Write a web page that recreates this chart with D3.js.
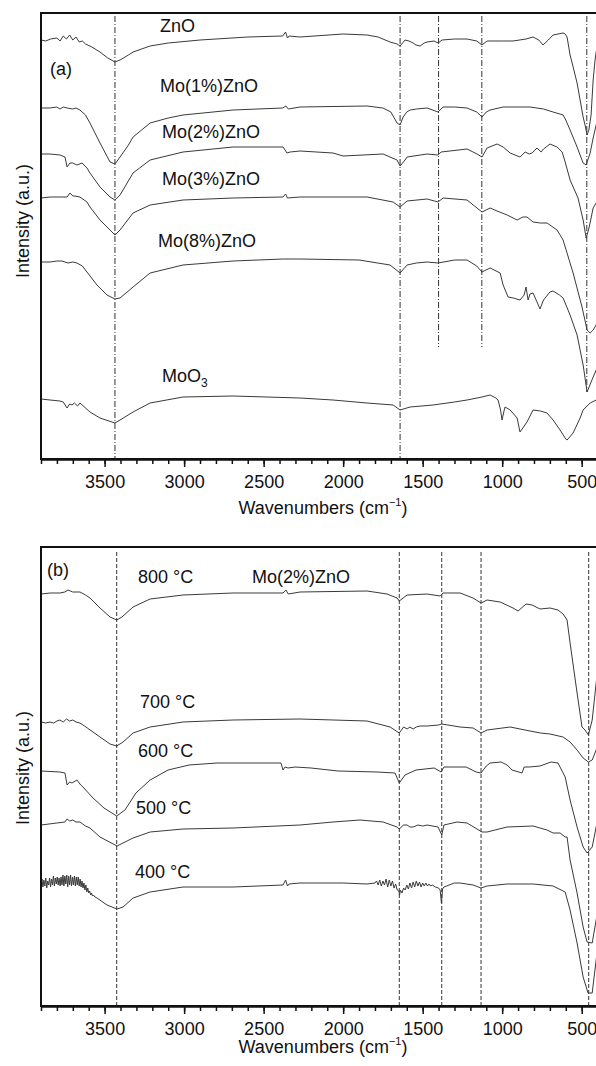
<!DOCTYPE html>
<html><head><meta charset="utf-8">
<script src="https://cdn.jsdelivr.net/npm/d3@7"></script>
<style>body{margin:0;background:#fff}svg{display:block}text{font-family:"Liberation Sans",Arial,sans-serif;fill:#111}</style>
</head><body><svg id="c" width="596" height="1066"></svg>
<script>
// ---------- DATA (wavenumber cm-1, intensity a.u.) ----------
const xDomain = [3900, 400];
const majorTicks = [3500, 3000, 2500, 2000, 1500, 1000, 500];
const xTitle = "Wavenumbers (cm";
const yTitle = "Intensity (a.u.)";

// panel (a)
const aNames = ["ZnO", "Mo(1%)ZnO", "Mo(2%)ZnO", "Mo(3%)ZnO", "Mo(8%)ZnO", "MoO3"];
const aZnO = [[3900,419],[3870,418],[3840,420],[3800,421],[3780,418],[3760,423],[3740,420],[3720,424],[3700,419],[3680,422],[3660,417],[3640,418],[3620,415],[3580,412],[3529,407],[3480,401],[3435,397],[3403,399],[3350,404],[3321,407],[3214,413],[3100,416],[2900,419],[2600,422],[2380,423],[2362,427],[2350,421],[2340,423],[2271,422],[2000,425],[1850,424],[1780,422],[1705,417],[1661,415],[1642,413],[1611,419],[1586,418],[1560,416],[1542,414],[1516,413],[1490,416],[1472,417],[1428,418],[1403,416],[1378,419],[1300,420],[1221,420],[1160,418],[1127,414],[1095,418],[1000,418],[932,418],[850,420],[806,422],[770,419],[743,414],[710,419],[680,424],[617,426],[604,425],[592,422],[573,404],[560,396],[529,376],[510,359],[491,342],[479,334],[466,324],[455,329],[441,344],[428,379],[416,399],[409,407],[400,414]];
const aMo1 = [[3900,351],[3843,351],[3800,352],[3781,350],[3760,352],[3736,351],[3700,350],[3680,351],[3655,349],[3620,344],[3592,336],[3529,316],[3466,297],[3435,295],[3403,302],[3350,314],[3321,322],[3214,336],[3100,341],[3007,344],[2692,349],[2380,351],[2360,353],[2345,350],[2271,352],[1850,353],[1750,351],[1700,347],[1661,336],[1642,334],[1623,342],[1600,347],[1579,349],[1540,350],[1472,351],[1403,347],[1372,352],[1300,352],[1221,351],[1160,347],[1127,342],[1100,347],[1076,349],[994,352],[825,352],[740,350],[680,347],[617,344],[600,339],[573,329],[529,312],[491,296],[472,294],[447,306],[428,321],[409,334],[400,341]];
const aMo2 = [[3900,305],[3843,305],[3781,304],[3749,302],[3736,292],[3718,296],[3700,296],[3674,294],[3642,296],[3611,291],[3592,286],[3529,272],[3466,262],[3435,259],[3403,264],[3321,286],[3214,299],[3007,307],[2692,312],[2378,312],[2353,306],[2334,307],[2271,308],[2064,306],[2001,303],[1749,305],[1661,299],[1642,293],[1611,299],[1598,302],[1472,305],[1403,304],[1384,307],[1221,310],[1158,305],[1127,302],[1095,311],[1032,315],[994,312],[950,306],[888,302],[856,307],[830,305],[812,306],[781,311],[755,307],[740,310],[699,315],[655,312],[623,307],[604,297],[573,279],[523,261],[491,239],[472,221],[454,231],[441,241],[428,251],[409,256],[400,259]];
const aMo3 = [[3900,261],[3843,262],[3781,262],[3736,262],[3718,266],[3700,263],[3686,263],[3655,262],[3611,257],[3592,252],[3529,239],[3466,229],[3435,224],[3403,229],[3321,246],[3214,254],[3007,259],[2692,261],[2378,262],[2362,265],[2350,261],[2271,262],[1850,262],[1686,257],[1642,252],[1598,258],[1472,260],[1403,257],[1372,261],[1221,259],[1127,247],[1076,251],[1032,248],[969,244],[906,239],[870,242],[844,242],[806,237],[760,236],[718,236],[655,229],[617,219],[554,186],[498,152],[466,129],[447,126],[428,129],[409,134],[400,139]];
const aMo8 = [[3900,197],[3843,197],[3800,198],[3768,198],[3730,196],[3700,197],[3674,196],[3640,193],[3611,187],[3548,174],[3485,164],[3435,160],[3403,161],[3321,172],[3214,186],[3007,194],[2692,198],[2378,200],[2271,200],[1900,199],[1705,194],[1642,186],[1598,194],[1540,196],[1472,197],[1403,196],[1300,199],[1221,199],[1160,193],[1127,187],[1076,191],[1013,186],[994,174],[963,162],[930,161],[888,159],[862,164],[850,172],[837,159],[825,165],[806,166],[781,157],[762,150],[740,159],[700,167],[680,168],[640,164],[617,161],[573,144],[529,124],[491,94],[466,67],[441,77],[409,89],[400,92]];
const aMoO3 = [[3900,60],[3843,59],[3781,58],[3760,57],[3736,51],[3720,55],[3705,54],[3690,56],[3670,53],[3655,56],[3592,47],[3529,41],[3435,36],[3403,39],[3321,47],[3214,56],[3007,62],[2692,63],[2271,61],[2064,59],[1850,56],[1686,54],[1642,49],[1579,52],[1435,54],[1300,57],[1221,59],[1127,62],[1076,64],[1040,61],[1026,59],[1010,49],[1001,39],[990,47],[982,52],[950,49],[906,41],[888,27],[870,31],[844,37],[806,49],[760,48],[718,46],[680,39],[636,29],[600,20],[592,19],[554,26],[510,41],[491,49],[447,56],[409,59],[400,60]];
const aPeaks = [3435, 1642, 1400, 1128, 468];
const aPeakEnds = [0, 0, 112, 112, 67];

// panel (b) Mo(2%)ZnO at calcination temperatures
const bNames = ["800 °C", "700 °C", "600 °C", "500 °C", "400 °C"];
const b800 = [[3900,412],[3843,413],[3781,413],[3750,414],[3730,416],[3700,414],[3655,414],[3620,411],[3592,408],[3529,398],[3466,389],[3424,386],[3391,389],[3321,399],[3214,407],[3007,411],[2692,413],[2378,413],[2360,416],[2345,412],[2271,414],[1850,415],[1724,412],[1661,408],[1647,405],[1598,411],[1472,412],[1390,410],[1372,413],[1265,413],[1183,408],[1133,403],[1095,406],[1013,404],[932,398],[900,395],[850,402],[812,401],[762,397],[699,398],[649,396],[617,392],[592,386],[573,363],[529,313],[498,279],[479,276],[458,271],[434,286],[409,323],[400,336]];
const b700 = [[3900,284],[3870,283],[3843,284],[3820,283],[3800,285],[3781,286],[3760,284],[3740,287],[3720,285],[3700,286],[3680,284],[3655,283],[3617,279],[3529,269],[3466,262],[3424,260],[3384,264],[3321,273],[3214,279],[3007,284],[2692,286],[2271,287],[1850,285],[1705,279],[1647,273],[1620,279],[1598,277],[1580,279],[1560,277],[1540,279],[1516,280],[1472,280],[1400,281],[1380,282],[1265,279],[1183,278],[1133,273],[1095,276],[950,279],[825,275],[760,273],[699,272],[617,269],[573,264],[529,256],[491,248],[458,244],[434,246],[409,256],[400,261]];
const b600 = [[3900,235],[3781,234],[3749,233],[3736,221],[3720,224],[3705,223],[3674,226],[3650,221],[3636,219],[3573,208],[3504,198],[3424,190],[3372,196],[3303,213],[3214,226],[3101,236],[2969,241],[2793,243],[2391,243],[2378,236],[2365,239],[2347,238],[2303,239],[2202,238],[2032,235],[1787,234],[1674,233],[1647,223],[1611,231],[1542,236],[1428,238],[1384,234],[1366,239],[1227,239],[1164,234],[1133,233],[1100,240],[1076,243],[1007,244],[969,241],[938,236],[875,233],[862,239],[831,239],[762,240],[693,244],[649,243],[604,229],[573,206],[529,179],[491,159],[466,153],[434,159],[409,179],[400,186]];
const b500 = [[3900,181],[3800,183],[3750,184],[3736,187],[3720,185],[3700,186],[3680,184],[3655,184],[3620,180],[3592,178],[3529,169],[3422,160],[3321,168],[3214,174],[3007,177],[2692,178],[2271,181],[2064,184],[1894,186],[1749,184],[1661,179],[1647,177],[1620,181],[1598,181],[1580,179],[1560,179],[1530,181],[1500,180],[1472,181],[1403,179],[1380,171],[1366,181],[1284,184],[1221,183],[1127,174],[1095,174],[969,179],[806,180],[718,176],[680,173],[636,173],[604,169],[592,169],[573,146],[529,113],[491,79],[466,64],[434,63],[409,86],[400,96]];
const b400 = [[3900,123],[3894,127],[3888,119],[3882,126],[3876,120],[3870,128],[3864,118],[3858,125],[3852,121],[3846,128],[3840,119],[3834,127],[3828,121],[3822,130],[3816,120],[3810,128],[3804,122],[3798,129],[3792,121],[3786,128],[3780,120],[3774,129],[3768,121],[3762,131],[3756,120],[3750,130],[3744,122],[3738,131],[3732,119],[3726,130],[3720,121],[3714,131],[3708,120],[3702,129],[3696,121],[3690,130],[3684,120],[3678,129],[3672,121],[3666,129],[3660,120],[3654,127],[3648,119],[3642,125],[3636,118],[3630,123],[3624,116],[3618,121],[3612,114],[3606,118],[3600,113],[3594,115],[3588,111],[3582,113],[3576,110],[3570,111],[3560,109],[3548,108],[3485,101],[3422,97],[3384,99],[3321,108],[3214,114],[3007,119],[2692,119],[2378,121],[2362,126],[2350,120],[2340,122],[2271,123],[2000,123],[1850,122],[1800,123],[1790,125],[1780,121],[1770,126],[1760,120],[1750,125],[1740,121],[1730,127],[1720,119],[1710,126],[1700,120],[1690,125],[1680,118],[1670,122],[1660,116],[1650,115],[1645,111],[1640,116],[1630,113],[1620,118],[1610,116],[1600,121],[1590,117],[1580,123],[1570,118],[1560,124],[1550,119],[1540,125],[1530,120],[1520,124],[1510,119],[1500,123],[1490,120],[1480,123],[1470,120],[1460,122],[1450,120],[1440,121],[1420,119],[1400,118],[1390,116],[1382,103],[1375,117],[1366,119],[1300,123],[1265,123],[1183,121],[1133,118],[1095,120],[969,122],[806,122],[680,120],[604,114],[573,96],[529,63],[491,29],[460,13],[434,13],[409,46],[400,61]];
const bPeaks = [3424, 1647, 1380, 1133, 456];

// ---------- DRAW ----------
const svg = d3.select("#c");
const x = d3.scaleLinear().domain(xDomain).range([41, 597.6]);

function panel(cfg) {
  const y = d3.scaleLinear().domain(cfg.yDomain).range(cfg.yRange);
  const g = svg.append("g");
  const line = d3.line().x(d => x(d[0])).y(d => y(d[1]));
  g.selectAll("line.peak").data(cfg.peaks).join("line")
    .attr("x1", d => x(d)).attr("x2", d => x(d))
    .attr("y1", y(cfg.peakTop))
    .attr("y2", (d, i) => y(cfg.peakEnds ? cfg.peakEnds[i] : 0))
    .attr("stroke", "#333").attr("stroke-width", 1)
    .attr("stroke-dasharray", cfg.dash);
  g.selectAll("path.s").data(cfg.series).join("path")
    .attr("fill", "none").attr("stroke", "#3a3a3a").attr("stroke-width", 1)
    .attr("stroke-linejoin", "round").attr("d", line);
  g.append("rect").attr("x", x(xDomain[0])).attr("y", cfg.yRange[1])
    .attr("width", x(xDomain[1]) - x(xDomain[0])).attr("height", cfg.yRange[0] - cfg.yRange[1])
    .attr("fill", "none").attr("stroke", "#111").attr("stroke-width", 2);
  const axY = cfg.yRange[0];
  const minor = g.append("g").attr("transform", `translate(0,${axY})`)
    .call(d3.axisBottom(x).tickValues(d3.range(400, 3901, 100)).tickSize(5).tickSizeOuter(0).tickFormat(""));
  const major = g.append("g").attr("transform", `translate(0,${axY})`)
    .call(d3.axisBottom(x).tickValues(majorTicks).tickSize(8).tickSizeOuter(0).tickPadding(8).tickFormat(d3.format("d")));
  [minor, major].forEach(a => {
    a.select(".domain").attr("stroke", "#111").attr("stroke-width", 2);
    a.selectAll(".tick line").attr("stroke", "#111").attr("stroke-width", 1.5);
  });
  major.selectAll(".tick text").attr("font-size", 18).attr("fill", "#111")
    .attr("font-family", '"Liberation Sans", Arial, sans-serif');
  const xt = g.append("text").attr("x", 323).attr("y", cfg.xTitleY).attr("text-anchor", "middle").attr("font-size", 18);
  xt.append("tspan").text(xTitle);
  xt.append("tspan").attr("font-size", 11).attr("dy", -8).text("\u22121");
  xt.append("tspan").attr("dy", 8).text(")");
  g.append("text").attr("transform", `translate(29,${cfg.yTitleY}) rotate(-90)`)
    .attr("text-anchor", "middle").attr("font-size", 18).text(yTitle);
  cfg.labels.forEach(l => {
    const t = g.append("text").attr("x", l[1]).attr("y", l[2]).attr("font-size", 18);
    if (l[0] === "MoO3") {
      t.append("tspan").text("MoO");
      t.append("tspan").attr("font-size", 12).attr("dy", 5).text("3");
    } else t.text(l[0]);
  });
}

panel({
  yDomain: [0, 446], yRange: [459, 13],
  series: [aZnO, aMo1, aMo2, aMo3, aMo8, aMoO3],
  peaks: aPeaks, peakEnds: aPeakEnds, peakTop: 443, dash: "6,2,1,2",
  xTitleY: 514, yTitleY: 221,
  labels: [[aNames[0], 160, 32], ["(a)", 50, 75], [aNames[1], 160, 92], [aNames[2], 162, 138],
           [aNames[3], 162, 185], [aNames[4], 158, 247], [aNames[5], 162, 382]]
});
panel({
  yDomain: [0, 459], yRange: [1006, 547],
  series: [b800, b700, b600, b500, b400],
  peaks: bPeaks, peakTop: 454, dash: "4,2",
  xTitleY: 1053, yTitleY: 768,
  labels: [["(b)", 47, 576], [bNames[0], 138, 583], ["Mo(2%)ZnO", 252, 583], [bNames[1], 140, 708],
           [bNames[2], 138, 757], [bNames[3], 136, 814], [bNames[4], 135, 878]]
});
</script></body></html>
